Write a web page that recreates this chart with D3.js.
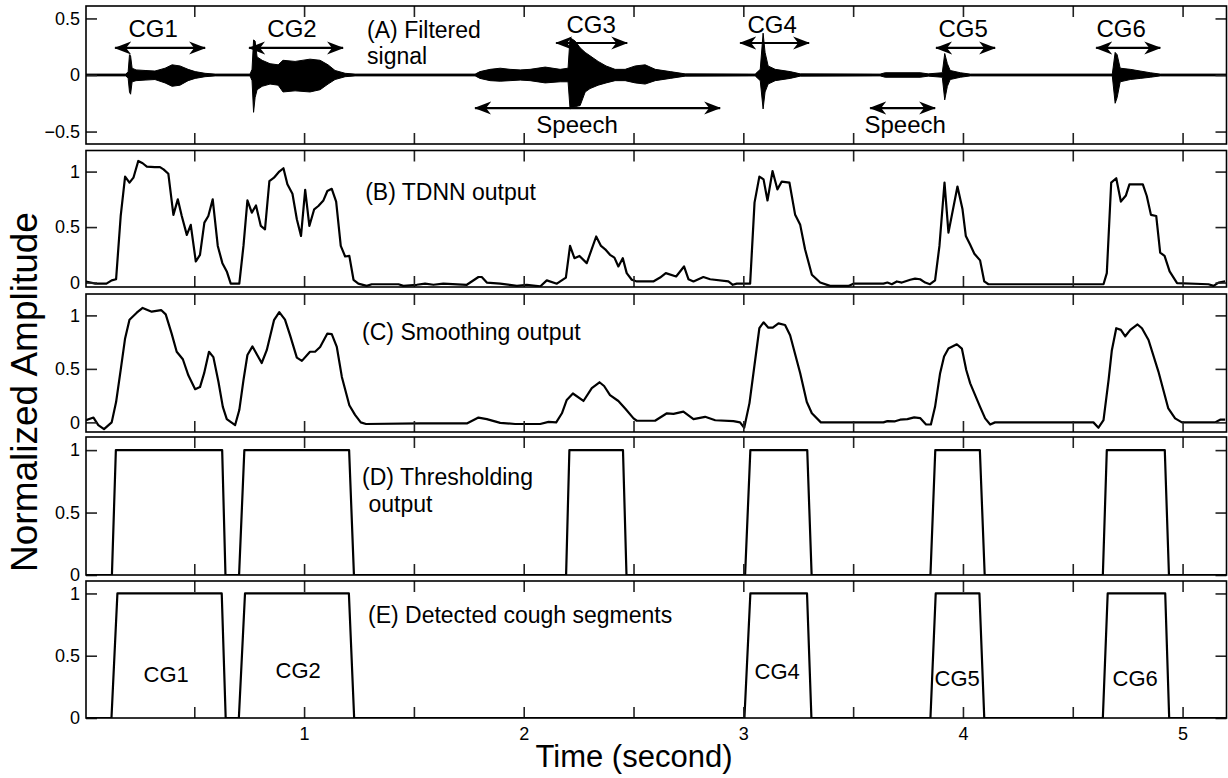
<!DOCTYPE html>
<html>
<head>
<meta charset="utf-8">
<script src="https://cdn.jsdelivr.net/npm/d3@7"></script>
<style>
  body { margin: 0; background: #fff; }
  svg text { font-family: "Liberation Sans", Arial, sans-serif; fill: #000; }
</style>
</head>
<body>
<svg id="chart" width="1228" height="778"></svg>
<script>
// ---------- time axis ----------
const timeDomain = [0.007, 5.2];
const timeTicks = [0.5, 1, 1.5, 2, 2.5, 3, 3.5, 4, 4.5, 5];
const timeTickLabels = [1, 2, 3, 4, 5];

// ---------- (A) filtered signal: upper / lower envelope ----------
const waveT = [0.007, 0.189, 0.199, 0.205, 0.210, 0.217, 0.235, 0.276, 0.321, 0.367, 0.399, 0.435, 0.472, 0.504, 0.549, 0.595,
  0.754, 0.763, 0.770, 0.777, 0.786, 0.809, 0.845, 0.882, 0.904, 0.959, 1.027, 1.073, 1.109, 1.141, 1.187, 1.232,
  1.779, 1.801, 1.847, 1.893, 1.938, 1.984, 2.029, 2.098, 2.166, 2.202, 2.211, 2.219, 2.234, 2.257, 2.280, 2.302,
  2.339, 2.375, 2.416, 2.462, 2.508, 2.553, 2.599, 2.667, 2.735,
  3.054, 3.077, 3.090, 3.099, 3.113, 3.145, 3.213, 3.259,
  3.623, 3.646, 3.805, 3.842, 3.906, 3.917, 3.929, 3.942, 3.988, 4.033,
  4.680, 4.693, 4.702, 4.716, 4.762, 4.807, 4.853, 4.898, 5.198];
const waveHi = [0.008, 0.008, 0.03, 0.18, 0.17, 0.06, 0.045, 0.04, 0.035, 0.06, 0.09, 0.08, 0.05, 0.03, 0.015, 0.008,
  0.008, 0.05, 0.31, 0.30, 0.16, 0.13, 0.10, 0.09, 0.13, 0.12, 0.14, 0.13, 0.09, 0.04, 0.015, 0.008,
  0.008, 0.03, 0.05, 0.06, 0.05, 0.045, 0.05, 0.07, 0.05, 0.06, 0.33, 0.32, 0.30, 0.24, 0.20, 0.17,
  0.12, 0.08, 0.05, 0.05, 0.08, 0.09, 0.05, 0.03, 0.01,
  0.008, 0.05, 0.37, 0.20, 0.08, 0.05, 0.03, 0.01,
  0.008, 0.02, 0.02, 0.01, 0.02, 0.19, 0.10, 0.04, 0.02, 0.008,
  0.008, 0.20, 0.18, 0.06, 0.05, 0.035, 0.02, 0.008, 0.008];
const waveLo = [-0.008, -0.008, -0.03, -0.15, -0.17, -0.06, -0.05, -0.045, -0.04, -0.07, -0.10, -0.09, -0.05, -0.03, -0.015, -0.008,
  -0.008, -0.05, -0.33, -0.20, -0.13, -0.10, -0.08, -0.09, -0.15, -0.14, -0.15, -0.13, -0.08, -0.04, -0.015, -0.008,
  -0.008, -0.03, -0.05, -0.055, -0.05, -0.045, -0.05, -0.07, -0.06, -0.06, -0.30, -0.29, -0.28, -0.27, -0.15, -0.12,
  -0.09, -0.07, -0.05, -0.05, -0.07, -0.08, -0.05, -0.03, -0.01,
  -0.008, -0.05, -0.30, -0.15, -0.08, -0.05, -0.03, -0.01,
  -0.008, -0.02, -0.02, -0.01, -0.02, -0.22, -0.10, -0.04, -0.02, -0.008,
  -0.008, -0.25, -0.20, -0.06, -0.04, -0.03, -0.02, -0.008, -0.008];

// ---------- (B) TDNN output ----------
const tdnnT = [0.007, 0.049, 0.100, 0.124, 0.144, 0.165, 0.185, 0.205, 0.223, 0.245, 0.265, 0.284, 0.320, 0.344, 0.360, 0.382,
  0.405, 0.425, 0.443, 0.466, 0.484, 0.507, 0.526, 0.546, 0.564, 0.584, 0.607, 0.628, 0.648, 0.666, 0.705, 0.724,
  0.742, 0.762, 0.781, 0.803, 0.822, 0.842, 0.863, 0.887, 0.906, 0.924, 0.947, 0.967, 0.986, 1.005, 1.024, 1.046,
  1.065, 1.088, 1.106, 1.126, 1.146, 1.167, 1.187, 1.206, 1.225, 1.247, 1.285, 1.308, 1.430, 1.452, 1.513, 1.551,
  1.589, 1.634, 1.741, 1.794, 1.809, 1.832, 1.893, 1.969, 2.014, 2.075, 2.105, 2.151, 2.192, 2.211, 2.231, 2.254,
  2.287, 2.330, 2.352, 2.371, 2.393, 2.413, 2.431, 2.451, 2.469, 2.492, 2.515, 2.590, 2.621, 2.647, 2.694, 2.730,
  2.750, 2.773, 2.818, 2.849, 2.932, 2.952, 2.970, 3.031, 3.051, 3.073, 3.092, 3.110, 3.133, 3.155, 3.175, 3.210,
  3.236, 3.259, 3.281, 3.312, 3.350, 3.395, 3.479, 3.501, 3.638, 3.656, 3.676, 3.699, 3.722, 3.760, 3.782, 3.805,
  3.828, 3.850, 3.873, 3.893, 3.916, 3.934, 3.975, 3.998, 4.013, 4.033, 4.052, 4.078, 4.097, 4.116, 4.640, 4.655,
  4.675, 4.698, 4.719, 4.742, 4.758, 4.819, 4.837, 4.856, 4.880, 4.898, 4.918, 4.941, 4.975, 5.118, 5.141, 5.164, 5.194];
const tdnnV = [0.01, -0.01, -0.01, 0.02, 0.03, 0.60, 0.955, 0.90, 0.945, 1.096, 1.075, 1.045, 1.04, 1.04, 1.02, 0.98,
  0.61, 0.75, 0.60, 0.43, 0.52, 0.19, 0.25, 0.54, 0.60, 0.75, 0.33, 0.175, 0.10, -0.01, -0.01, 0.33,
  0.74, 0.63, 0.695, 0.51, 0.48, 0.915, 0.945, 1.00, 1.03, 0.885, 0.80, 0.57, 0.42, 0.835, 0.51, 0.66,
  0.69, 0.74, 0.825, 0.845, 0.73, 0.33, 0.235, 0.24, 0.025, -0.01, -0.03, -0.015, -0.015, -0.03, -0.02, -0.01,
  -0.02, -0.01, -0.02, 0.05, 0.05, 0.0, -0.01, -0.03, -0.02, -0.035, 0.02, -0.01, 0.045, 0.33, 0.22, 0.24,
  0.175, 0.415, 0.33, 0.30, 0.25, 0.225, 0.145, 0.22, 0.085, 0.025, 0.01, 0.01, 0.045, 0.085, 0.055, 0.145,
  0.03, 0.01, 0.05, 0.03, 0.01, -0.02, -0.01, -0.01, 0.72, 0.955, 0.93, 0.74, 1.005, 0.84, 0.91, 0.90,
  0.61, 0.52, 0.30, 0.07, 0.0, -0.03, -0.03, -0.01, -0.01, 0.0, -0.015, 0.01, 0.0, 0.025, 0.035, 0.03,
  0.0, -0.015, 0.02, 0.33, 0.90, 0.45, 0.865, 0.66, 0.42, 0.34, 0.26, 0.20, 0.01, -0.015, -0.015, 0.085,
  0.90, 0.94, 0.73, 0.785, 0.885, 0.885, 0.78, 0.61, 0.60, 0.27, 0.24, 0.10, -0.005, -0.015, -0.03, 0.0, 0.01];

// ---------- (C) smoothing output ----------
const smoothT = [0.007, 0.041, 0.063, 0.089, 0.124, 0.144, 0.165, 0.185, 0.205, 0.238, 0.265, 0.306, 0.349, 0.370, 0.397, 0.420,
  0.448, 0.473, 0.504, 0.526, 0.545, 0.567, 0.587, 0.610, 0.630, 0.648, 0.686, 0.705, 0.724, 0.742, 0.765, 0.807,
  0.830, 0.863, 0.887, 0.913, 0.936, 0.967, 0.990, 1.027, 1.050, 1.073, 1.106, 1.126, 1.149, 1.172, 1.206, 1.232,
  1.258, 1.282, 1.528, 1.741, 1.794, 1.832, 1.893, 1.961, 2.075, 2.113, 2.148, 2.174, 2.196, 2.224, 2.272, 2.310,
  2.345, 2.366, 2.393, 2.431, 2.462, 2.500, 2.515, 2.598, 2.652, 2.682, 2.727, 2.773, 2.826, 2.872, 2.955, 2.985,
  3.004, 3.028, 3.073, 3.092, 3.114, 3.134, 3.160, 3.190, 3.213, 3.259, 3.289, 3.312, 3.353, 3.638, 3.656, 3.691,
  3.714, 3.747, 3.778, 3.805, 3.832, 3.854, 3.873, 3.896, 3.914, 3.934, 3.972, 3.995, 4.015, 4.033, 4.078, 4.101,
  4.124, 4.146, 4.594, 4.617, 4.640, 4.663, 4.678, 4.698, 4.719, 4.739, 4.762, 4.795, 4.815, 4.845, 4.890, 4.935,
  4.966, 4.997, 5.148, 5.171, 5.194];
const smoothV = [0.02, 0.045, -0.025, -0.063, 0.0, 0.19, 0.49, 0.785, 0.96, 1.025, 1.07, 1.035, 1.05, 1.01, 0.83, 0.66,
  0.59, 0.44, 0.31, 0.33, 0.46, 0.66, 0.61, 0.38, 0.145, 0.03, -0.025, 0.115, 0.395, 0.63, 0.71, 0.555,
  0.675, 0.955, 1.03, 0.96, 0.815, 0.605, 0.575, 0.66, 0.66, 0.705, 0.83, 0.825, 0.705, 0.425, 0.16, 0.07,
  0.0, -0.015, -0.01, -0.01, 0.045, 0.03, -0.005, -0.015, -0.015, 0.005, 0.0, 0.085, 0.21, 0.27, 0.20, 0.32,
  0.375, 0.34, 0.255, 0.20, 0.13, 0.037, 0.015, 0.015, 0.085, 0.08, 0.10, 0.03, 0.052, 0.02, 0.012, 0.0,
  -0.05, 0.18, 0.88, 0.935, 0.885, 0.885, 0.925, 0.91, 0.815, 0.46, 0.19, 0.085, 0.0, 0.0, 0.012, 0.01,
  0.025, 0.03, 0.047, 0.04, -0.02, -0.02, 0.145, 0.46, 0.615, 0.69, 0.73, 0.69, 0.49, 0.365, 0.145, 0.037,
  -0.02, 0.0, 0.0, -0.05, 0.02, 0.395, 0.675, 0.88, 0.865, 0.805, 0.865, 0.915, 0.88, 0.77, 0.475, 0.13,
  0.037, 0.0, 0.0, 0.025, 0.025];

// ---------- (D) thresholding output ----------
const threshT = [0.007, 0.125, 0.143, 0.627, 0.642, 0.704, 0.728, 1.205, 1.227, 2.193, 2.208, 2.452, 2.468,
  3.008, 3.032, 3.291, 3.311, 3.852, 3.874, 4.077, 4.099, 4.637, 4.655, 4.919, 4.938, 5.2];
const threshV = [0, 0, 1, 1, 0, 0, 1, 1, 0, 0, 1, 1, 0, 0, 1, 1, 0, 0, 1, 1, 0, 0, 1, 1, 0, 0];

// ---------- (E) detected cough segments ----------
const coughT = [0.007, 0.123, 0.150, 0.625, 0.643, 0.703, 0.731, 1.204, 1.228,
  3.005, 3.032, 3.290, 3.310, 3.852, 3.876, 4.075, 4.097, 4.637, 4.659, 4.921, 4.939, 5.2];
const coughV = [0, 0, 1, 1, 0, 0, 1, 1, 0, 0, 1, 1, 0, 0, 1, 1, 0, 0, 1, 1, 0, 0];
const coughNames = ["CG1", "CG2", "CG4", "CG5", "CG6"];
const coughLabelT = [0.372, 0.973, 3.154, 3.974, 4.784];
const coughLabelV = [0.293, 0.325, 0.317, 0.26, 0.26];

// ---------- (A) annotations: arrows and their labels ----------
const arrowNames = ["CG1", "CG2", "CG3", "CG4", "CG5", "CG6", "Speech", "Speech"];
const arrowFrom = [0.126, 0.736, 2.134, 2.972, 3.864, 4.593, 1.765, 3.564];
const arrowTo = [0.563, 1.191, 2.485, 3.313, 4.160, 4.912, 2.908, 3.887];
const arrowLevel = [0.239, 0.239, 0.283, 0.283, 0.239, 0.239, -0.292, -0.292];
const arrowLabelT = [0.313, 0.945, 2.307, 3.131, 4.001, 4.720, 2.243, 3.737];
const arrowLabelV = [0.336, 0.336, 0.372, 0.372, 0.336, 0.336, -0.513, -0.513];

// ---------- panel titles ----------
const panelTitles = [["(A) Filtered", "signal"], ["(B) TDNN output"], ["(C) Smoothing output"],
  ["(D) Thresholding", " output"], ["(E) Detected cough segments"]];
const titleT = [[1.287, 1.287], [1.278], [1.264], [1.264, 1.264], [1.291]];
const titleV = [[0.327, 0.097], [0.74], [0.769], [0.718, 0.501], [0.76]];

// ---------- panel vertical layout ----------
const panelTop = [6, 150.5, 294, 437, 581];
const panelBottom = [144, 287, 432, 575, 718];
const panelDomain = [[-0.61, 0.61], [-0.04, 1.19], [-0.09, 1.2], [0, 1.105], [0, 1.1]];
const panelTicks = [[-0.5, 0, 0.5], [0, 0.5, 1], [0, 0.5, 1], [0, 0.5, 1], [0, 0.5, 1]];

const svg = d3.select("#chart");
const left = 86, right = 1226.5;
const x = d3.scaleLinear().domain(timeDomain).range([left, right]);
const ys = panelDomain.map((dom, i) => d3.scaleLinear().domain(dom).range([panelBottom[i], panelTop[i]]));

// arrow heads
const defs = svg.append("defs");
defs.append("marker")
  .attr("id", "head")
  .attr("viewBox", "0 0 17 14")
  .attr("refX", 16).attr("refY", 7)
  .attr("markerWidth", 17).attr("markerHeight", 14)
  .attr("markerUnits", "userSpaceOnUse")
  .attr("orient", "auto-start-reverse")
  .append("path")
  .attr("d", "M0,0.5 L17,7 L0,13.5 L5,7 Z")
  .attr("fill", "#000");

panelTop.forEach((_, i) => defs.append("clipPath").attr("id", "clip" + i)
  .append("rect").attr("x", left).attr("y", panelTop[i])
  .attr("width", right - left).attr("height", panelBottom[i] - panelTop[i]));

const lineFor = (tArr, vArr, y) => d3.line().x(i => x(tArr[i])).y(i => y(vArr[i]))(d3.range(tArr.length));

// ---- (A) waveform envelope
const gA = svg.append("g").attr("clip-path", "url(#clip0)");
gA.append("line").attr("x1", left).attr("x2", right).attr("y1", ys[0](0)).attr("y2", ys[0](0))
  .attr("stroke", "#000").attr("stroke-width", 1.5);
gA.append("path")
  .attr("d", d3.area().x(i => x(waveT[i])).y0(i => ys[0](waveLo[i])).y1(i => ys[0](waveHi[i])).curve(d3.curveLinear)(d3.range(waveT.length)))
  .attr("fill", "#000").attr("stroke", "#000").attr("stroke-width", 1);

// ---- (B)..(E) lines
const series = [[tdnnT, tdnnV, 1], [smoothT, smoothV, 2], [threshT, threshV, 3], [coughT, coughV, 4]];
series.forEach(([t, v, p]) => {
  svg.append("g").attr("clip-path", "url(#clip" + p + ")")
    .append("path").attr("d", lineFor(t, v, ys[p]))
    .attr("fill", "none").attr("stroke", "#000").attr("stroke-width", 2.2)
    .attr("stroke-linejoin", "round");
});

// ---- inward ticks on all four sides, labels on the left, and the box
const tickLen = 11;
const styleAxis = g => {
  g.select(".domain").remove();
  g.selectAll(".tick line").attr("stroke", "#222").attr("stroke-width", 1.6);
  g.selectAll(".tick text").attr("font-size", 18).attr("fill", "#000")
    .attr("font-family", "Liberation Sans, Arial, sans-serif");
};
panelTop.forEach((_, i) => {
  const y = ys[i];
  svg.append("g").attr("transform", `translate(0,${panelBottom[i]})`)
    .call(d3.axisBottom(x).tickValues(timeTicks).tickSizeInner(-tickLen).tickSizeOuter(0).tickFormat(""))
    .call(styleAxis);
  svg.append("g").attr("transform", `translate(0,${panelTop[i]})`)
    .call(d3.axisTop(x).tickValues(timeTicks).tickSizeInner(-tickLen).tickSizeOuter(0).tickFormat(""))
    .call(styleAxis);
  svg.append("g").attr("transform", `translate(${left},0)`)
    .call(d3.axisLeft(y).tickValues(panelTicks[i]).tickSizeInner(-tickLen).tickSizeOuter(0)
      .tickPadding(6).tickFormat(d3.format("")))
    .call(styleAxis);
  svg.append("g").attr("transform", `translate(${right},0)`)
    .call(d3.axisRight(y).tickValues(panelTicks[i]).tickSizeInner(-tickLen).tickSizeOuter(0).tickFormat(""))
    .call(styleAxis);
  svg.append("rect").attr("x", left).attr("y", panelTop[i])
    .attr("width", right - left).attr("height", panelBottom[i] - panelTop[i])
    .attr("fill", "none").attr("stroke", "#000").attr("stroke-width", 1.6);
});

// ---- x tick labels and axis titles
svg.append("g").attr("transform", "translate(0,727)")
  .call(d3.axisBottom(x).tickValues(timeTickLabels).tickSize(0).tickPadding(0).tickFormat(d3.format("d")))
  .call(styleAxis);
svg.append("text").attr("x", 634).attr("y", 767).attr("text-anchor", "middle")
  .attr("font-size", 31).text("Time (second)");
svg.append("text").attr("transform", "translate(37,392) rotate(-90)")
  .attr("text-anchor", "middle").attr("font-size", 37).text("Normalized Amplitude");

// ---- (A) arrows and labels
arrowNames.forEach((name, k) => {
  svg.append("line")
    .attr("x1", x(arrowFrom[k]) + 3).attr("x2", x(arrowTo[k]) - 3)
    .attr("y1", ys[0](arrowLevel[k])).attr("y2", ys[0](arrowLevel[k]))
    .attr("stroke", "#000").attr("stroke-width", 2.2)
    .attr("marker-start", "url(#head)").attr("marker-end", "url(#head)");
  svg.append("text").attr("x", x(arrowLabelT[k])).attr("y", ys[0](arrowLabelV[k]))
    .attr("text-anchor", "middle").attr("font-size", 24).text(name);
});

// ---- panel titles
panelTitles.forEach((lines, i) => {
  lines.forEach((s, j) => {
    svg.append("text").attr("x", x(titleT[i][j])).attr("y", ys[i](titleV[i][j]))
      .attr("font-size", 23).attr("xml:space", "preserve").style("white-space", "pre").text(s);
  });
});

// ---- (E) cough labels
coughNames.forEach((name, k) => {
  svg.append("text").attr("x", x(coughLabelT[k])).attr("y", ys[4](coughLabelV[k]))
    .attr("text-anchor", "middle").attr("font-size", 22).text(name);
});
</script>
</body>
</html>
